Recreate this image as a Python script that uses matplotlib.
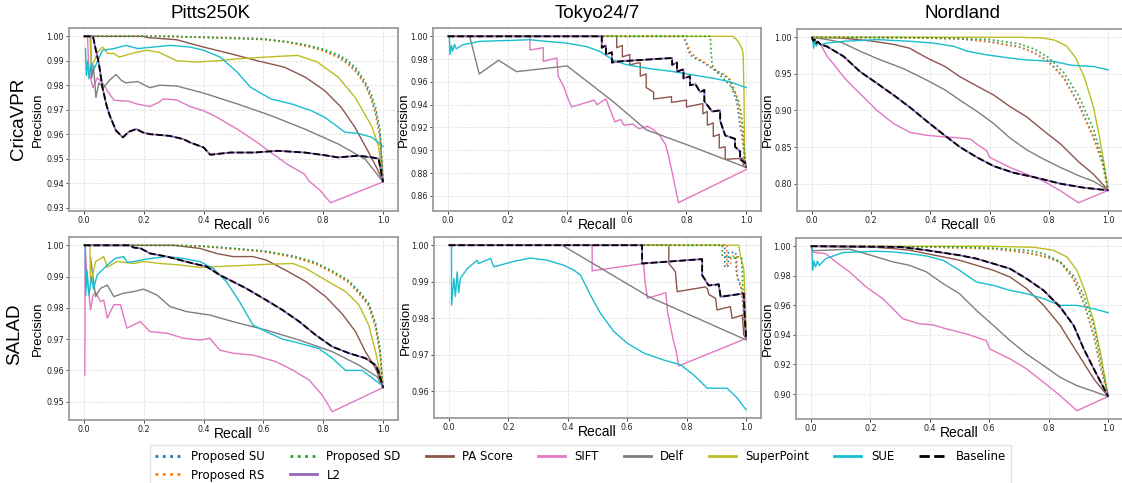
import numpy as np
import matplotlib
matplotlib.use("Agg")
import matplotlib.pyplot as plt
from matplotlib.lines import Line2D
from matplotlib.ticker import MultipleLocator, FormatStrFormatter

W, H = 1122, 483

# ---- data: (recall, precision) vertices ----
# Pitts250K / CricaVPR
pitts_crica = {
    "SU": [(0, 1.0), (0.25, 1.0), (0.4, 0.9997), (0.5, 0.9994), (0.6, 0.999), (0.68, 0.9977), (0.75, 0.996),
           (0.8, 0.9943), (0.85, 0.9918), (0.88, 0.9895), (0.91, 0.986), (0.94, 0.9806), (0.96, 0.975),
           (0.975, 0.969), (0.99, 0.96), (1.0, 0.9405)],
    "RS": [(0, 1.0), (0.25, 1.0), (0.4, 0.9996), (0.5, 0.9993), (0.6, 0.9988), (0.68, 0.9975), (0.75, 0.9958),
           (0.8, 0.994), (0.85, 0.9913), (0.88, 0.9888), (0.91, 0.9853), (0.94, 0.98), (0.96, 0.9745),
           (0.975, 0.968), (0.99, 0.958), (1.0, 0.9405)],
    "SD": [(0, 1.0), (0.3, 1.0), (0.4, 0.9995), (0.5, 0.9991), (0.6, 0.9987), (0.68, 0.9978), (0.75, 0.9963),
           (0.8, 0.9948), (0.85, 0.9925), (0.88, 0.9903), (0.91, 0.987), (0.94, 0.9815), (0.96, 0.9765),
           (0.975, 0.971), (0.99, 0.962), (1.0, 0.9405)],
    "PA": [(0, 1.0), (0.2, 1.0), (0.21, 0.9995), (0.31, 0.9986), (0.4, 0.9956), (0.49, 0.9929), (0.58, 0.990),
           (0.67, 0.9874), (0.74, 0.9833), (0.805, 0.9778), (0.86, 0.971), (0.905, 0.963), (0.95, 0.953),
           (0.98, 0.946), (1.0, 0.9405)],
    "SIFT": [(0.012, 1.0), (0.015, 0.99), (0.02, 0.984), (0.03, 0.979), (0.045, 0.983), (0.062, 0.981),
             (0.085, 0.9765), (0.1, 0.974), (0.118, 0.9737), (0.15, 0.9735), (0.175, 0.9724), (0.22, 0.9713),
             (0.25, 0.973), (0.265, 0.9744), (0.31, 0.974), (0.355, 0.9713), (0.40, 0.9696), (0.445, 0.9669),
             (0.512, 0.9621), (0.58, 0.9566), (0.625, 0.9525), (0.68, 0.9477), (0.738, 0.9436), (0.751, 0.941),
             (0.79, 0.937), (0.81, 0.934), (0.825, 0.932), (1.0, 0.9405)],
    "Delf": [(0.022, 1.0), (0.026, 0.983), (0.032, 0.988), (0.04, 0.975), (0.05, 0.981), (0.065, 0.979),
             (0.085, 0.982), (0.107, 0.9844), (0.125, 0.982), (0.14, 0.981), (0.18, 0.9815), (0.22, 0.979),
             (0.253, 0.980), (0.31, 0.9797), (0.40, 0.9768), (0.512, 0.9724), (0.625, 0.9676), (0.738, 0.9621),
             (0.85, 0.956), (0.94, 0.9498), (1.0, 0.9405)],
    "SP": [(0.0, 1.0), (0.02, 1.0), (0.025, 0.988), (0.035, 0.99), (0.045, 0.9935), (0.062, 0.9956), (0.08, 0.993),
           (0.1, 0.993), (0.118, 0.9915), (0.16, 0.993), (0.208, 0.9943), (0.25, 0.9935), (0.31, 0.990),
           (0.377, 0.9895), (0.45, 0.990), (0.512, 0.9908), (0.648, 0.9918), (0.715, 0.9922), (0.78, 0.9895),
           (0.85, 0.9833), (0.907, 0.975), (0.963, 0.963), (0.985, 0.955), (1.0, 0.9405)],
    "SUE": [(0.005, 0.995), (0.008, 0.984), (0.012, 0.99), (0.017, 0.9826), (0.025, 0.989), (0.035, 0.987),
            (0.05, 0.991), (0.062, 0.9943), (0.1, 0.995), (0.14, 0.9963), (0.18, 0.995), (0.23, 0.9956),
            (0.287, 0.9963), (0.355, 0.9956), (0.40, 0.9943), (0.456, 0.9915), (0.512, 0.9854), (0.557, 0.9792),
            (0.625, 0.9744), (0.693, 0.9724), (0.76, 0.9696), (0.805, 0.9669), (0.873, 0.9608), (0.917, 0.9603),
            (0.963, 0.9587), (1.0, 0.955)],
    "Base": [(0, 1.0), (0.03, 1.0), (0.04, 0.9943), (0.05, 0.9888), (0.062, 0.979), (0.075, 0.972), (0.085, 0.968),
             (0.107, 0.9615), (0.13, 0.9587), (0.15, 0.961), (0.175, 0.9621), (0.197, 0.9607), (0.22, 0.960),
             (0.242, 0.9598), (0.287, 0.9593), (0.332, 0.958), (0.355, 0.9566), (0.40, 0.9546), (0.422, 0.9516),
             (0.49, 0.9525), (0.569, 0.9525), (0.648, 0.9532), (0.738, 0.9525), (0.805, 0.9514), (0.85, 0.9505),
             (0.917, 0.9512), (0.963, 0.9505), (0.985, 0.950), (1.0, 0.9405)],
}

# Tokyo24/7 / CricaVPR
tokyo_crica = {
    "SU": [(0, 1.0), (0.789, 1.0), (0.801, 0.9926), (0.812, 0.9838), (0.829, 0.9808), (0.851, 0.9779),
           (0.868, 0.975), (0.902, 0.9691), (0.924, 0.9661), (0.946, 0.9617), (0.957, 0.9514), (0.969, 0.9425),
           (0.98, 0.9219), (0.986, 0.913), (0.993, 0.898), (1.0, 0.885)],
    "RS": [(0, 1.0), (0.79, 1.0), (0.80, 0.995), (0.815, 0.986), (0.83, 0.982), (0.855, 0.978), (0.875, 0.9745),
           (0.90, 0.970), (0.925, 0.967), (0.945, 0.963), (0.96, 0.954), (0.972, 0.944), (0.982, 0.924),
           (0.99, 0.905), (0.996, 0.89), (1.0, 0.885)],
    "SD": [(0, 1.0), (0.88, 1.0), (0.882, 0.99), (0.886, 0.975), (0.90, 0.969), (0.924, 0.963), (0.946, 0.957),
           (0.963, 0.951), (0.974, 0.943), (0.983, 0.934), (0.99, 0.916), (0.997, 0.888), (1.0, 0.885)],
    "PA": [(0, 1.0), (0.566, 1.0), (0.566, 0.99), (0.585, 0.992), (0.585, 0.982), (0.61, 0.984), (0.61, 0.975),
           (0.645, 0.977), (0.645, 0.965), (0.665, 0.967), (0.665, 0.955), (0.69, 0.951), (0.69, 0.945),
           (0.75, 0.947), (0.75, 0.942), (0.80, 0.944), (0.80, 0.938), (0.855, 0.941), (0.855, 0.932),
           (0.87, 0.934), (0.87, 0.922), (0.89, 0.924), (0.89, 0.912), (0.91, 0.914), (0.91, 0.902),
           (0.93, 0.903), (0.93, 0.892), (0.99, 0.893), (0.99, 0.886), (1.0, 0.885)],
    "SIFT": [(0, 1.0), (0.275, 1.0), (0.275, 0.988), (0.32, 0.99), (0.32, 0.978), (0.365, 0.981), (0.37, 0.965),
             (0.39, 0.955), (0.40, 0.947), (0.415, 0.938), (0.49, 0.944), (0.50, 0.94), (0.53, 0.945),
             (0.56, 0.925), (0.58, 0.927), (0.59, 0.922), (0.62, 0.923), (0.64, 0.919), (0.67, 0.921),
             (0.69, 0.918), (0.71, 0.913), (0.73, 0.905), (0.74, 0.895), (0.755, 0.877), (0.773, 0.854),
             (1.0, 0.883)],
    "Delf": [(0, 1.0), (0.073, 1.0), (0.105, 0.967), (0.17, 0.979), (0.23, 0.969), (0.40, 0.974), (0.555, 0.9425),
             (0.665, 0.918), (0.8, 0.905), (1.0, 0.885)],
    "SP": [(0, 1.0), (0.955, 1.0), (0.965, 0.998), (0.975, 0.995), (0.985, 0.99), (0.99, 0.985), (0.993, 0.95),
           (0.995, 0.89), (1.0, 0.885)],
    "SUE": [(0.005, 1.0), (0.007, 0.984), (0.012, 0.992), (0.016, 0.987), (0.022, 0.993), (0.028, 0.989),
            (0.05, 0.9926), (0.107, 0.9956), (0.219, 0.9965), (0.275, 0.997), (0.33, 0.9956), (0.398, 0.994),
            (0.465, 0.991), (0.51, 0.9867), (0.555, 0.979), (0.60, 0.975), (0.667, 0.972), (0.757, 0.969),
            (0.835, 0.9655), (0.89, 0.9632), (0.947, 0.960), (1.0, 0.955)],
    "Base": [(0, 1.0), (0.516, 1.0), (0.516, 0.99), (0.53, 0.992), (0.53, 0.984), (0.55, 0.986), (0.55, 0.977),
             (0.575, 0.978), (0.752, 0.981), (0.752, 0.975), (0.768, 0.977), (0.768, 0.969), (0.79, 0.971),
             (0.79, 0.963), (0.812, 0.965), (0.812, 0.957), (0.83, 0.958), (0.846, 0.951), (0.86, 0.953),
             (0.86, 0.943), (0.886, 0.934), (0.913, 0.935), (0.913, 0.926), (0.93, 0.913), (0.963, 0.91),
             (0.963, 0.903), (0.98, 0.899), (0.98, 0.892), (0.997, 0.889), (1.0, 0.885)],
}

# Nordland / CricaVPR
nord_crica = {
    "SU": [(0, 1.0), (0.3, 0.9995), (0.5, 0.998), (0.6, 0.994), (0.7, 0.987), (0.75, 0.979), (0.8, 0.967),
           (0.85, 0.945), (0.9, 0.91), (0.95, 0.865), (0.98, 0.83), (1.0, 0.791)],
    "RS": [(0, 1.0), (0.3, 0.9993), (0.5, 0.9978), (0.6, 0.9935), (0.7, 0.9865), (0.75, 0.979), (0.8, 0.966),
           (0.85, 0.944), (0.9, 0.908), (0.95, 0.862), (0.98, 0.828), (1.0, 0.791)],
    "SD": [(0, 1.0), (0.4, 0.9995), (0.6, 0.997), (0.7, 0.991), (0.75, 0.984), (0.8, 0.972), (0.85, 0.952),
           (0.9, 0.92), (0.95, 0.875), (0.98, 0.835), (1.0, 0.791)],
    "PA": [(0, 1.0), (0.1, 0.999), (0.2, 0.995), (0.28, 0.990), (0.33, 0.985), (0.39, 0.9715), (0.45, 0.96),
           (0.5, 0.946), (0.55, 0.935), (0.614, 0.921), (0.67, 0.905), (0.726, 0.891), (0.78, 0.873),
           (0.84, 0.854), (0.9, 0.83), (0.95, 0.813), (1.0, 0.791)],
    "SIFT": [(0.003, 1.0), (0.01, 0.995), (0.02, 0.993), (0.03, 0.99), (0.05, 0.975), (0.084, 0.958),
             (0.107, 0.946), (0.13, 0.936), (0.163, 0.923), (0.22, 0.90), (0.276, 0.882), (0.332, 0.87),
             (0.389, 0.866), (0.445, 0.864), (0.5, 0.8625), (0.535, 0.861), (0.557, 0.854), (0.59, 0.845),
             (0.6, 0.836), (0.67, 0.822), (0.78, 0.804), (0.84, 0.79), (0.9, 0.774), (1.0, 0.791)],
    "Delf": [(0, 1.0), (0.05, 0.997), (0.1, 0.993), (0.163, 0.981), (0.22, 0.971), (0.31, 0.957), (0.39, 0.941),
             (0.45, 0.928), (0.5, 0.914), (0.56, 0.898), (0.614, 0.882), (0.67, 0.862), (0.726, 0.846),
             (0.78, 0.834), (0.84, 0.822), (0.9, 0.811), (0.952, 0.803), (1.0, 0.791)],
    "SP": [(0, 1.0), (0.7, 1.0), (0.78, 0.999), (0.82, 0.996), (0.86, 0.988), (0.89, 0.972), (0.92, 0.945),
           (0.95, 0.905), (0.97, 0.865), (0.985, 0.83), (1.0, 0.791)],
    "SUE": [(0.003, 1.0), (0.006, 0.985), (0.01, 0.995), (0.015, 0.988), (0.022, 0.993), (0.03, 0.99),
            (0.05, 0.992), (0.107, 0.9945), (0.22, 0.9968), (0.332, 0.9945), (0.41, 0.992), (0.48, 0.9876),
            (0.524, 0.981), (0.59, 0.976), (0.67, 0.9715), (0.726, 0.969), (0.816, 0.967), (0.873, 0.962),
            (0.906, 0.961), (0.952, 0.960), (1.0, 0.9554)],
    "Base": [(0, 1.0), (0.005, 0.995), (0.01, 0.997), (0.015, 0.992), (0.02, 0.994), (0.03, 0.99), (0.05, 0.9876),
             (0.107, 0.974), (0.163, 0.953), (0.22, 0.937), (0.276, 0.921), (0.332, 0.904), (0.389, 0.885),
             (0.445, 0.867), (0.50, 0.850), (0.557, 0.836), (0.614, 0.824), (0.68, 0.815), (0.76, 0.808),
             (0.839, 0.800), (0.918, 0.7945), (1.0, 0.791)],
}

# Pitts250K / SALAD
pitts_salad = {
    "SU": [(0, 1.0), (0.3, 1.0), (0.388, 0.9998), (0.498, 0.999), (0.609, 0.998), (0.698, 0.9964), (0.775, 0.9942),
           (0.83, 0.9916), (0.886, 0.9884), (0.919, 0.985), (0.952, 0.981), (0.975, 0.9745), (0.99, 0.966),
           (1.0, 0.9545)],
    "RS": [(0, 1.0), (0.3, 1.0), (0.388, 0.9997), (0.498, 0.9988), (0.609, 0.9978), (0.698, 0.9962),
           (0.775, 0.994), (0.83, 0.9913), (0.886, 0.988), (0.919, 0.9845), (0.952, 0.9805), (0.975, 0.9735),
           (0.99, 0.965), (1.0, 0.9545)],
    "SD": [(0, 1.0), (0.3, 1.0), (0.4, 0.9997), (0.5, 0.999), (0.6, 0.9982), (0.7, 0.9966), (0.775, 0.9945),
           (0.83, 0.9918), (0.886, 0.9886), (0.919, 0.9855), (0.952, 0.9815), (0.975, 0.975), (0.99, 0.967),
           (1.0, 0.9545)],
    "PA": [(0, 1.0), (0.3, 1.0), (0.345, 0.9995), (0.388, 0.999), (0.443, 0.9974), (0.498, 0.9964), (0.565, 0.9964),
           (0.609, 0.9953), (0.675, 0.992), (0.742, 0.9884), (0.808, 0.9836), (0.864, 0.978), (0.908, 0.9724),
           (0.941, 0.966), (0.975, 0.9607), (1.0, 0.9545)],
    "SIFT": [(0.003, 0.9585), (0.004, 1.0), (0.01, 0.99), (0.016, 0.985), (0.022, 0.9793), (0.03, 0.984),
             (0.039, 0.985), (0.055, 0.982), (0.066, 0.9825), (0.078, 0.9767), (0.1, 0.981), (0.122, 0.981),
             (0.144, 0.9735), (0.188, 0.9756), (0.221, 0.9724), (0.277, 0.9719), (0.332, 0.9703), (0.388, 0.9697),
             (0.421, 0.9703), (0.454, 0.9665), (0.498, 0.9655), (0.565, 0.9649), (0.642, 0.9628), (0.698, 0.9601),
             (0.753, 0.9569), (0.797, 0.9521), (0.83, 0.9468), (1.0, 0.9545)],
    "Delf": [(0.022, 0.996), (0.03, 0.99), (0.039, 0.9836), (0.055, 0.9862), (0.078, 0.9873), (0.1, 0.9836),
             (0.133, 0.9847), (0.166, 0.9852), (0.2, 0.986), (0.244, 0.9841), (0.288, 0.9804), (0.343, 0.9788),
             (0.421, 0.9777), (0.498, 0.9756), (0.609, 0.9729), (0.72, 0.9697), (0.83, 0.966), (0.919, 0.9617),
             (0.98, 0.958), (1.0, 0.9545)],
    "SP": [(0.0, 1.0), (0.02, 1.0), (0.022, 0.988), (0.03, 0.991), (0.039, 0.9948), (0.066, 0.9964), (0.078, 0.993),
           (0.11, 0.9948), (0.166, 0.9942), (0.2, 0.9948), (0.255, 0.9942), (0.321, 0.9937), (0.388, 0.9929),
           (0.443, 0.9932), (0.52, 0.9935), (0.609, 0.9939), (0.698, 0.9942), (0.742, 0.9926), (0.808, 0.9889),
           (0.875, 0.9852), (0.919, 0.981), (0.952, 0.9745), (0.975, 0.966), (1.0, 0.9545)],
    "SUE": [(0.004, 1.0), (0.006, 0.984), (0.01, 0.992), (0.017, 0.984), (0.025, 0.99), (0.032, 0.986),
            (0.044, 0.9905), (0.078, 0.9937), (0.105, 0.9958), (0.133, 0.9964), (0.145, 0.9945), (0.166, 0.9948),
            (0.221, 0.9958), (0.277, 0.9964), (0.332, 0.9958), (0.388, 0.9948), (0.432, 0.9926), (0.476, 0.9884),
            (0.52, 0.982), (0.565, 0.9745), (0.609, 0.9724), (0.664, 0.970), (0.72, 0.9687), (0.786, 0.967),
            (0.83, 0.9639), (0.875, 0.960), (0.93, 0.960), (0.98, 0.9564), (1.0, 0.955)],
    "Base": [(0, 1.0), (0.155, 1.0), (0.166, 0.9993), (0.19, 0.999), (0.221, 0.9974), (0.277, 0.9964),
             (0.321, 0.9953), (0.365, 0.9942), (0.41, 0.9932), (0.454, 0.9905), (0.498, 0.9884), (0.543, 0.9862),
             (0.609, 0.9825), (0.664, 0.9793), (0.72, 0.9756), (0.775, 0.9713), (0.83, 0.9676), (0.886, 0.9655),
             (0.941, 0.9639), (0.975, 0.9617), (0.985, 0.9596), (1.0, 0.9545)],
}

# Tokyo24/7 / SALAD
tokyo_salad = {
    "SU": [(0, 1.0), (0.928, 1.0), (0.928, 0.994), (0.94, 0.9945), (0.94, 0.998), (0.965, 0.998), (0.967, 0.993),
           (0.975, 0.99), (0.985, 0.988), (0.99, 0.983), (0.995, 0.978), (1.0, 0.9745)],
    "RS": [(0, 1.0), (0.935, 1.0), (0.935, 0.994), (0.948, 0.995), (0.95, 0.997), (0.968, 0.997), (0.97, 0.991),
           (0.978, 0.99), (0.988, 0.986), (0.995, 0.978), (1.0, 0.9745)],
    "SD": [(0, 1.0), (0.92, 1.0), (0.92, 0.997), (0.96, 0.9965), (0.965, 0.997), (0.985, 0.9965), (0.988, 0.99),
           (0.992, 0.985), (0.996, 0.978), (1.0, 0.9745)],
    "PA": [(0, 1.0), (0.74, 1.0), (0.74, 0.995), (0.755, 0.9935), (0.762, 0.9927), (0.768, 0.9873),
           (0.863, 0.9886), (0.87, 0.988), (0.875, 0.9865), (0.897, 0.9855), (0.902, 0.9823), (0.947, 0.9832),
           (0.953, 0.980), (0.987, 0.9809), (0.992, 0.9755), (1.0, 0.9745)],
    "SIFT": [(0, 1.0), (0.482, 1.0), (0.482, 0.993), (0.655, 0.995), (0.66, 0.99), (0.668, 0.9855), (0.73, 0.987),
             (0.735, 0.982), (0.745, 0.978), (0.755, 0.974), (0.765, 0.971), (0.773, 0.967), (1.0, 0.9745)],
    "Delf": [(0, 1.0), (0.381, 1.0), (0.673, 0.9859), (1.0, 0.9741)],
    "SP": [(0, 1.0), (0.975, 1.0), (0.981, 0.9968), (0.992, 0.9936), (0.998, 0.9827), (1.0, 0.9745)],
    "SUE": [(0.009, 1.0), (0.009, 0.9836), (0.017, 0.9909), (0.022, 0.986), (0.028, 0.9927), (0.033, 0.987),
            (0.039, 0.991), (0.062, 0.9936), (0.095, 0.9959), (0.1, 0.995), (0.14, 0.9964), (0.151, 0.9941),
            (0.17, 0.9945), (0.219, 0.9956), (0.275, 0.9965), (0.331, 0.9959), (0.387, 0.9945), (0.42, 0.9932),
            (0.443, 0.9918), (0.476, 0.9864), (0.51, 0.9814), (0.555, 0.9764), (0.60, 0.9732), (0.656, 0.9705),
            (0.723, 0.9686), (0.779, 0.9673), (0.824, 0.9645), (0.869, 0.9609), (0.936, 0.9609), (0.97, 0.9582),
            (1.0, 0.955)],
    "Base": [(0, 1.0), (0.65, 1.0), (0.65, 0.995), (0.852, 0.9962), (0.852, 0.9918), (0.874, 0.989),
             (0.908, 0.9893), (0.914, 0.9859), (0.992, 0.9868), (0.995, 0.981), (1.0, 0.9745)],
}

# Nordland / SALAD
nord_salad = {
    "SU": [(0, 1.0), (0.4, 0.9995), (0.614, 0.9984), (0.726, 0.9957), (0.794, 0.9928), (0.839, 0.9894),
           (0.884, 0.978), (0.918, 0.9622), (0.952, 0.9396), (0.974, 0.9192), (1.0, 0.8984)],
    "RS": [(0, 1.0), (0.4, 0.9994), (0.614, 0.9982), (0.726, 0.9955), (0.794, 0.9925), (0.839, 0.989),
           (0.884, 0.9775), (0.918, 0.9615), (0.952, 0.939), (0.974, 0.9185), (1.0, 0.8984)],
    "SD": [(0, 1.0), (0.5, 0.9995), (0.6, 0.9988), (0.726, 0.9973), (0.783, 0.995), (0.839, 0.9894), (0.884, 0.980),
           (0.918, 0.9667), (0.952, 0.946), (0.974, 0.924), (1.0, 0.8984)],
    "PA": [(0, 1.0), (0.2, 0.9995), (0.276, 0.9984), (0.332, 0.9973), (0.389, 0.995), (0.445, 0.9928),
           (0.50, 0.9905), (0.557, 0.9871), (0.614, 0.9837), (0.67, 0.9792), (0.726, 0.9713), (0.783, 0.96),
           (0.839, 0.9464), (0.895, 0.9283), (0.952, 0.9102), (1.0, 0.8984)],
    "SIFT": [(0.003, 1.0), (0.006, 0.996), (0.05, 0.995), (0.084, 0.9894), (0.13, 0.9826), (0.186, 0.9724),
             (0.242, 0.9645), (0.276, 0.9577), (0.31, 0.9509), (0.366, 0.9475), (0.41, 0.9468), (0.456, 0.9441),
             (0.523, 0.9407), (0.59, 0.9362), (0.602, 0.9305), (0.67, 0.9238), (0.726, 0.917), (0.783, 0.9079),
             (0.839, 0.8989), (0.895, 0.8887), (1.0, 0.8984)],
    "Delf": [(0, 1.0), (0.006, 0.997), (0.05, 0.9973), (0.13, 0.998), (0.163, 0.9962), (0.22, 0.9928),
             (0.276, 0.9894), (0.332, 0.9871), (0.389, 0.9826), (0.445, 0.9747), (0.50, 0.9679), (0.557, 0.9566),
             (0.614, 0.9464), (0.67, 0.9362), (0.726, 0.9271), (0.783, 0.9192), (0.839, 0.9113), (0.895, 0.9057),
             (1.0, 0.8984)],
    "SP": [(0, 1.0), (0.6, 1.0), (0.749, 0.9993), (0.816, 0.9973), (0.861, 0.9928), (0.895, 0.9837), (0.923, 0.969),
           (0.952, 0.9486), (0.974, 0.9283), (1.0, 0.8984)],
    "SUE": [(0.003, 1.0), (0.006, 0.9837), (0.01, 0.99), (0.016, 0.986), (0.022, 0.99), (0.028, 0.987),
            (0.05, 0.9916), (0.107, 0.9957), (0.163, 0.9962), (0.22, 0.9966), (0.276, 0.9962), (0.332, 0.995),
            (0.389, 0.9934), (0.445, 0.9905), (0.50, 0.9837), (0.557, 0.9758), (0.614, 0.9735), (0.67, 0.9701),
            (0.726, 0.9679), (0.783, 0.9645), (0.839, 0.96), (0.895, 0.96), (0.952, 0.9577), (1.0, 0.955)],
    "Base": [(0, 1.0), (0.3, 0.9995), (0.389, 0.9973), (0.50, 0.9939), (0.557, 0.9916), (0.614, 0.9882),
             (0.67, 0.9848), (0.726, 0.978), (0.783, 0.9701), (0.839, 0.9588), (0.884, 0.9464), (0.918, 0.9305),
             (0.952, 0.917), (1.0, 0.8984)],
}

datasets = ["Pitts250K", "Tokyo24/7", "Nordland"]
models = ["CricaVPR", "SALAD"]
panels = [[pitts_crica, tokyo_crica, nord_crica], [pitts_salad, tokyo_salad, nord_salad]]
y_steps = [[0.01, 0.02, 0.05], [0.01, 0.01, 0.02]]

# key, legend label, colour, linestyle, width
styles = [
    ("PA", "PA Score", "tab:brown", "-", 1.0),
    ("SIFT", "SIFT", "tab:pink", "-", 1.0),
    ("Delf", "Delf", "tab:gray", "-", 1.0),
    ("SP", "SuperPoint", "tab:olive", "-", 1.0),
    ("SUE", "SUE", "tab:cyan", "-", 1.0),
    ("SU", "Proposed SU", "tab:blue", ":", 1.2),
    ("RS", "Proposed RS", "tab:orange", ":", 1.2),
    ("SD", "Proposed SD", "tab:green", ":", 1.2),
    ("Base", "L2", "tab:purple", "-", 1.3),
    ("Base", "Baseline", "black", "--", 1.3),
]

# axes boxes in pixels: left, top, right, bottom
boxes = [[(69, 28, 398, 211), (433, 28, 761, 211), (797, 29, 1123, 211)],
         [(69, 237, 398, 420), (434, 237, 761, 418), (796, 238, 1123, 419)]]
ylab_off = [[30, 28, 28], [30, 27, 27]]

fig = plt.figure(figsize=(W / 100, H / 100), dpi=100)

for i in range(2):
    for j in range(3):
        l, t, r, b = boxes[i][j]
        ax = fig.add_axes([l / W, 1 - b / H, (r - l) / W, (b - t) / H])
        data = panels[i][j]
        for key, label, color, ls, lw in styles:
            pts = np.array(data[key])
            ax.plot(pts[:, 0], pts[:, 1], color=color, linestyle=ls, linewidth=lw)
        ax.xaxis.set_major_locator(MultipleLocator(0.2))
        ax.xaxis.set_major_formatter(FormatStrFormatter('%.1f'))
        ax.yaxis.set_major_locator(MultipleLocator(y_steps[i][j]))
        ax.yaxis.set_major_formatter(FormatStrFormatter('%.2f'))
        ax.grid(True, color='#e2e2e2', linestyle='--', linewidth=0.6)
        ax.tick_params(labelsize=5.8, length=2, width=0.6, pad=1.5, colors='#222222')
        for s in ax.spines.values():
            s.set_color('#9c9c9c')
            s.set_linewidth(1.3)
        ax.set_ylabel('Precision', fontsize=9.5, family='Liberation Sans', va='center')
        ax.yaxis.set_label_coords(-(ylab_off[i][j] + 1) / (r - l), 0.5)
        ax.set_xlabel('Recall', fontsize=10, family='Liberation Sans', va='center')
        ax.xaxis.set_label_coords(0.5, -14 / (b - t))

# column titles and row labels
for name, x in zip(datasets, [211, 597, 962]):
    fig.text(x / W, 1 - 13 / H, name, fontsize=13.5, family='Liberation Sans', ha='center', va='center')
for name, x, y in zip(models, [19, 15], [119, 334]):
    fig.text(x / W, 1 - y / H, name, fontsize=13.5, family='Liberation Sans', rotation=90,
             ha='center', va='center')

# legend
leg_order = ["Proposed SU", "Proposed RS", "Proposed SD", "L2", "PA Score", "SIFT", "Delf",
             "SuperPoint", "SUE", "Baseline"]
style_map = {s[1]: s for s in styles}
handles = [Line2D([], [], color=style_map[n][2], linestyle=style_map[n][3], linewidth=2) for n in leg_order]
fig.legend(handles, leg_order, loc='upper left', bbox_to_anchor=(150 / W, 1 - 445 / H), ncol=8,
           fontsize=8.5, borderaxespad=0, handlelength=2.3, columnspacing=2.1, handletextpad=0.8,
           borderpad=0.4, labelspacing=0.5, frameon=True, edgecolor='#dddddd', fancybox=False)

fig.savefig('out.png', dpi=100)
